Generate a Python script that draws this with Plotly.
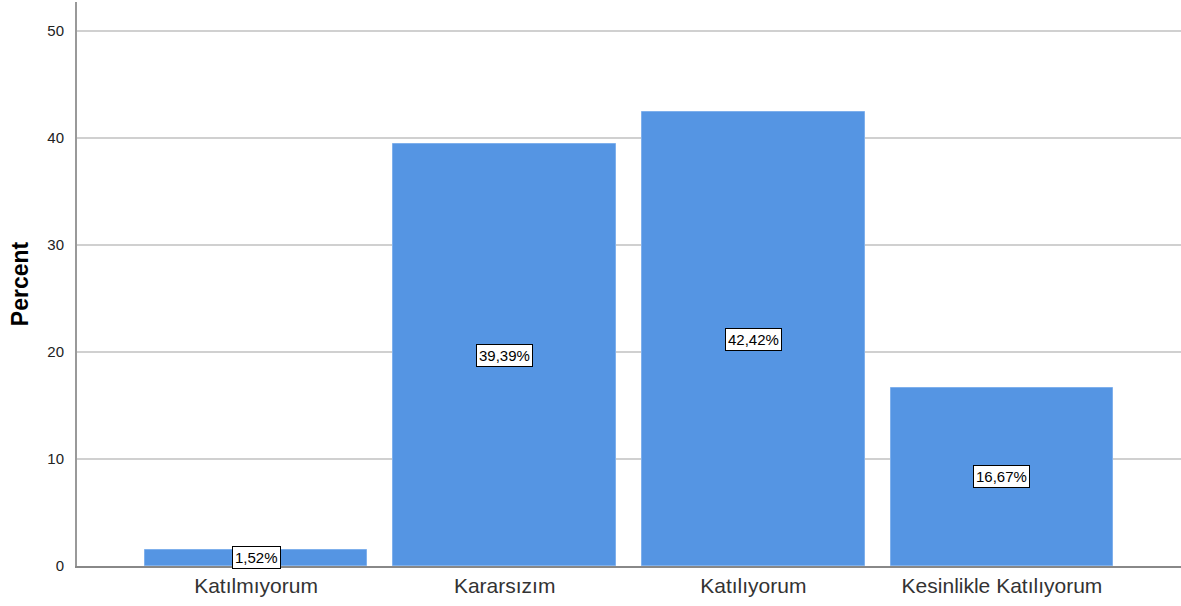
import plotly.graph_objects as go

categories = ["Katılmıyorum", "Kararsızım", "Katılıyorum", "Kesinlikle Katılıyorum"]
percents = [1.52, 39.39, 42.42, 16.67]
labels = ["1,52%", "39,39%", "42,42%", "16,67%"]
y_ticks = [0, 10, 20, 30, 40, 50]

fig = go.Figure()
fig.add_trace(go.Bar(
    x=categories, y=percents, width=0.895,
    marker=dict(color="#5595E3", line=dict(color="#7fb0ec", width=1)),
    hoverinfo="skip",
))
for c, v, t in zip(categories, percents, labels):
    fig.add_annotation(
        x=c, y=v / 2, text=t, showarrow=False,
        font=dict(family="Arial, Liberation Sans", size=15, color="#000000"),
        bgcolor="white", bordercolor="#000000", borderwidth=1, borderpad=2,
    )

fig.update_layout(
    width=1181, height=606,
    margin=dict(l=77, r=0, t=2, b=40),
    plot_bgcolor="white", paper_bgcolor="white",
    showlegend=False,
    bargap=0,
    font=dict(family="Arial, Liberation Sans", color="#333333"),
)
fig.update_xaxes(
    range=[-0.72, 3.72],
    showgrid=False, showline=True, linecolor="#888888", linewidth=1.5,
    ticks="", tickfont=dict(size=21, color="#333333"),
    zeroline=False,
)
fig.update_yaxes(
    range=[0, 52.7], tickvals=y_ticks,
    showgrid=True, gridcolor="#d0d0d0", gridwidth=1.5,
    showline=True, linecolor="#999999", linewidth=2,
    zeroline=False, ticks="", ticklabelstandoff=8,
    tickfont=dict(size=15, color="#222222"),
    title=dict(text="<b>Percent</b>", font=dict(size=23, color="#000000"), standoff=12),
)
fig.write_html("out.html", config={"displayModeBar": False},
               post_script="document.body.style.margin='0';")
